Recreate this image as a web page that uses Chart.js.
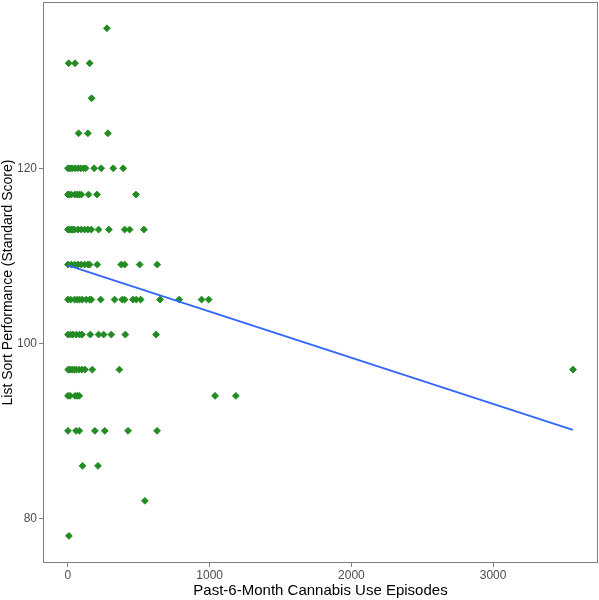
<!DOCTYPE html>
<html>
<head>
<meta charset="utf-8">
<script src="https://cdn.jsdelivr.net/npm/chart.js@4.4.1/dist/chart.umd.min.js"></script>
<style>
    body { margin: 0; background: #ffffff; }
    canvas { display: block; }
</style>
</head>
<body>
<canvas id="scatterChart" width="599" height="600"></canvas>
<script>
/**
 * Data: one row of episodes per score level
 */
var scoreLevels = [136, 132, 128, 124, 120, 117, 113, 109, 105, 101, 97, 94, 90, 86, 82, 78];
var episodeRows = [
    [275],
    [5, 50, 153],
    [167],
    [75, 141, 282],
    [0, 15, 30, 50, 70, 90, 110, 125, 185, 235, 320, 390],
    [0, 10, 25, 50, 65, 80, 95, 145, 205, 480],
    [0, 12, 24, 35, 47, 71, 94, 118, 141, 165, 216, 289, 400, 435, 536],
    [0, 24, 47, 71, 94, 118, 141, 153, 207, 376, 400, 506, 630],
    [0, 19, 47, 66, 82, 101, 129, 153, 165, 231, 329, 383, 400, 459, 482, 513, 650, 785, 943, 993],
    [0, 19, 35, 59, 82, 99, 158, 216, 252, 306, 405, 622],
    [2, 15, 30, 45, 60, 80, 100, 120, 172, 363, 3564],
    [0, 15, 50, 65, 80, 1038, 1185],
    [0, 57, 80, 190, 260, 424, 629],
    [103, 212],
    [543],
    [7]
];

// fitted line end points
var fitEpisodes = [0, 3562];
var fitScores = [108.9, 90.1];

var xTicks = [0, 1000, 2000, 3000];
var yTicks = [80, 100, 120];

/**
 * Build point objects from the rows
 */
function buildPoints() {
    var points = [];
    for (var i = 0; i < scoreLevels.length; i++) {
        for (var j = 0; j < episodeRows[i].length; j++) {
            points.push({x: episodeRows[i][j], y: scoreLevels[i]});
        }
    }
    return points;
}

function buildFit() {
    var arr = [];
    for (var i = 0; i < fitEpisodes.length; i++) {
        arr.push({x: fitEpisodes[i], y: fitScores[i]});
    }
    return arr;
}

/**
 * Panel border round the plot area
 */
var panelBorder = {
    id: 'panelBorder',
    afterDraw: function (chart) {
        var a = chart.chartArea;
        var ctx = chart.ctx;
        ctx.save();
        ctx.strokeStyle = '#7f7f7f';
        ctx.lineWidth = 1;
        ctx.strokeRect(a.left + 0.5, a.top + 0.5, a.right - a.left - 1, a.bottom - a.top - 1);
        ctx.restore();
    }
};

function makeChart() {
    var ctx = document.getElementById("scatterChart").getContext("2d");
    var fontFamily = "'Liberation Sans', Arial, sans-serif";

    var myChart = new Chart(ctx, {
        type: 'scatter',
        data: {
            datasets: [{
                type: 'line',
                data: buildFit(),
                borderColor: '#3366FF',
                borderWidth: 1.8,
                pointRadius: 0,
                fill: false,
                order: 0
            }, {
                data: buildPoints(),
                pointStyle: 'rectRot',
                pointRadius: 3.4,
                borderWidth: 1,
                backgroundColor: '#228B22',
                borderColor: '#228B22',
                order: 1
            }]
        },
        options: {
            responsive: false,
            animation: false,
            devicePixelRatio: 1,
            layout: {autoPadding: false, padding: {top: 2, right: 1, left: 0, bottom: 0}},
            plugins: {
                legend: {display: false},
                tooltip: {enabled: false}
            },
            scales: {
                x: {
                    type: 'linear',
                    min: -176,
                    max: 3740,
                    afterBuildTicks: function (scale) {
                        scale.ticks = xTicks.map(function (v) { return {value: v}; });
                    },
                    afterFit: function (scale) {
                        scale.height = 37;
                        scale.paddingLeft = 0;
                        scale.paddingRight = 0;
                    },
                    grid: {display: true, drawOnChartArea: false, drawTicks: true, tickLength: 4, color: '#7f7f7f'},
                    border: {display: false},
                    ticks: {
                        padding: 1,
                        color: '#4d4d4d',
                        font: {family: fontFamily, size: 12},
                        callback: function (v) { return String(v); }
                    },
                    title: {
                        display: true,
                        text: 'Past-6-Month Cannabis Use Episodes',
                        color: '#000000',
                        font: {family: fontFamily, size: 15},
                        padding: {top: 0, bottom: 0}
                    }
                },
                y: {
                    type: 'linear',
                    min: 74.9,
                    max: 139,
                    afterBuildTicks: function (scale) {
                        scale.ticks = yTicks.map(function (v) { return {value: v}; });
                    },
                    afterFit: function (scale) {
                        scale.width = 43;
                        scale.paddingTop = 0;
                        scale.paddingBottom = 0;
                    },
                    grid: {display: true, drawOnChartArea: false, drawTicks: true, tickLength: 4, color: '#7f7f7f'},
                    border: {display: false},
                    ticks: {
                        padding: 2,
                        color: '#4d4d4d',
                        font: {family: fontFamily, size: 12},
                        callback: function (v) { return String(v); }
                    },
                    title: {
                        display: true,
                        text: 'List Sort Performance (Standard Score)',
                        color: '#000000',
                        font: {family: fontFamily, size: 14},
                        padding: {top: 0, bottom: 0}
                    }
                }
            }
        },
        plugins: [panelBorder]
    });
    return myChart;
}

makeChart();
</script>
</body>
</html>
